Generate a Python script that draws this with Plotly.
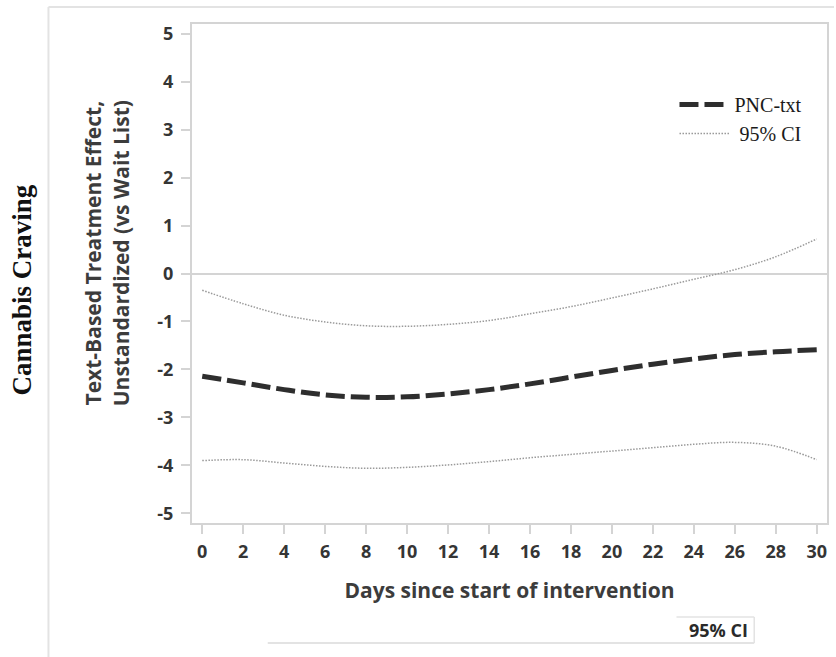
import plotly.graph_objects as go

# ---- data ----
days = [0, 2, 4, 6, 8, 10, 12, 14, 16, 18, 20, 22, 24, 26, 28, 30]
pnc_txt = [-2.14, -2.28, -2.42, -2.53, -2.58, -2.57, -2.51, -2.42, -2.30, -2.16,
           -2.02, -1.89, -1.78, -1.69, -1.63, -1.59]
ci_upper = [-0.35, -0.63, -0.87, -1.01, -1.09, -1.10, -1.06, -0.98, -0.84, -0.69,
            -0.51, -0.32, -0.12, 0.08, 0.35, 0.72]
ci_lower = [-3.90, -3.88, -3.95, -4.02, -4.06, -4.04, -3.99, -3.92, -3.84, -3.77,
            -3.70, -3.63, -3.56, -3.52, -3.60, -3.88]
x_ticks = list(range(0, 31, 2))
y_ticks = list(range(-5, 6))
y_tick_labels = [str(v) for v in y_ticks]

W, H = 836, 657
ML, MR, MT, MB = 192, 7, 24, 134
PW, PH = W - ML - MR, H - MT - MB


def px(x):
    return (x - ML) / PW


def py(y):
    return (H - MB - y) / PH


SANS = "Open Sans"
SERIF = "Liberation Serif"
FRAME = "#d4d4d4"

fig = go.Figure()
fig.add_trace(go.Scatter(
    x=days, y=pnc_txt, name="PNC-txt", mode="lines", line_shape="spline",
    line=dict(color="#2e2e2e", width=5, dash="19px,6px"), legendrank=1))
fig.add_trace(go.Scatter(
    x=days, y=ci_upper, name="\u00a095% CI", mode="lines", line_shape="spline",
    line=dict(color="#9a9a9a", width=1.5, dash="1.5px,1.5px"), legendrank=2))
fig.add_trace(go.Scatter(
    x=days, y=ci_lower, name="95% CI lower", mode="lines", line_shape="spline",
    line=dict(color="#9a9a9a", width=1.5, dash="1.5px,1.5px"), showlegend=False))

axis_common = dict(
    showline=True, mirror=True, linecolor=FRAME, linewidth=2,
    ticks="outside", ticklen=9, tickcolor=FRAME, tickwidth=1.5,
    showgrid=False,
    tickfont=dict(family=SANS, size=18, color="#353535", weight="bold"),
)
fig.update_xaxes(range=[-0.5, 30.5], tickvals=x_ticks, zeroline=False,
                 ticklabelstandoff=2,
                 title=dict(text="Days since start of intervention", standoff=22,
                            font=dict(family=SANS, size=21, color="#3c3c3c", weight="bold")),
                 **axis_common)
fig.update_yaxes(range=[-5.2, 5.2], tickvals=y_ticks, ticktext=y_tick_labels,
                 zeroline=True, zerolinecolor=FRAME, zerolinewidth=2, ticklabelstandoff=4,
                 **axis_common)

annotations = [
    dict(text="Text-Based Treatment Effect,<br>Unstandardized (vs Wait List)",
         x=px(106), y=py(253), xref="paper", yref="paper", textangle=-90,
         showarrow=False, xanchor="center", yanchor="middle",
         font=dict(family=SANS, size=21, color="#3c3c3c", weight="bold")),
    dict(text="<b>Cannabis Craving</b>", x=px(21), y=py(290), xref="paper", yref="paper",
         textangle=-90, showarrow=False, xanchor="center", yanchor="middle",
         font=dict(family=SERIF, size=27, color="#111111")),
    dict(text="95% CI", x=px(752), y=py(630), xref="paper", yref="paper",
         showarrow=False, xanchor="right", yanchor="middle",
         font=dict(family=SANS, size=18, color="#2a2a2a", weight="bold")),
]

OUT = "#e3e3e3"
shapes = [
    dict(type="line", xref="paper", yref="paper", x0=px(48), x1=px(836), y0=py(7), y1=py(7),
         line=dict(color=OUT, width=2)),
    dict(type="line", xref="paper", yref="paper", x0=px(48), x1=px(48), y0=py(7), y1=py(657),
         line=dict(color=OUT, width=2)),
    dict(type="line", xref="paper", yref="paper", x0=px(268), x1=px(756), y0=py(643), y1=py(643),
         line=dict(color=OUT, width=2)),
    dict(type="line", xref="paper", yref="paper", x0=px(678), x1=px(756), y0=py(617), y1=py(617),
         line=dict(color=OUT, width=1.5)),
    dict(type="line", xref="paper", yref="paper", x0=px(756), x1=px(756), y0=py(617), y1=py(643),
         line=dict(color=OUT, width=1.5)),
]

fig.update_layout(
    width=W, height=H,
    margin=dict(l=ML, r=MR, t=MT, b=MB),
    paper_bgcolor="white", plot_bgcolor="white",
    showlegend=True,
    legend=dict(x=px(676), y=py(85), xanchor="left", yanchor="top",
                bgcolor="rgba(0,0,0,0)", borderwidth=0, itemwidth=50,
                font=dict(family=SERIF, size=20, color="#1a1a1a"),
                tracegroupgap=0),
    annotations=annotations,
    shapes=shapes,
)

fig.write_html("out.html", config={"displayModeBar": False},
               post_script="document.body.style.margin='0';document.body.style.overflow='hidden';")
